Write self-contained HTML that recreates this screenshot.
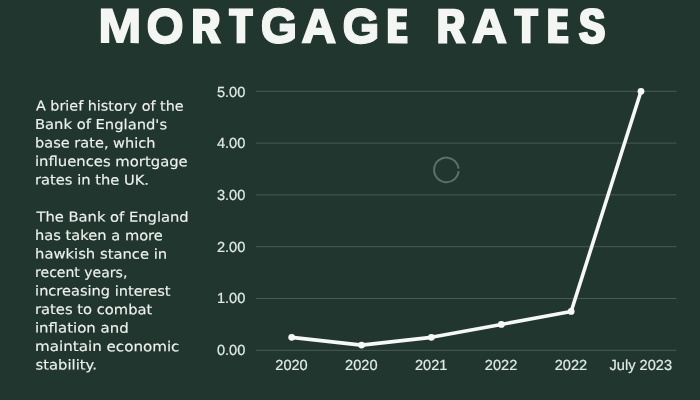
<!DOCTYPE html>
<html><head><meta charset="utf-8">
<style>
html,body{margin:0;padding:0;}
body{width:700px;height:400px;overflow:hidden;background:#21362e;position:relative;font-family:"Liberation Sans",sans-serif;}
#title{position:absolute;left:0;top:0;width:700px;height:60px;font-weight:bold;color:#f3f6f3;font-size:49.5px;line-height:49.5px;white-space:pre;text-rendering:geometricPrecision;}
#title .w{position:absolute;left:0;top:0;width:700px;height:60px;display:block;}
#title .g{position:absolute;left:0;top:0;display:block;transform-origin:0 0;}
#txt{position:absolute;left:0;top:0;color:#eef2ee;font-family:"DejaVu Sans","Liberation Sans",sans-serif;font-size:13.7px;line-height:18px;white-space:nowrap;text-rendering:geometricPrecision;-webkit-text-stroke:0.15px #eef2ee;}
#txt p{margin:0;}
#txt span{position:absolute;left:0;top:0;display:block;transform-origin:0 0;}
svg{position:absolute;left:0;top:0;}
svg text{font-family:"Liberation Sans",sans-serif;font-size:14.6px;fill:#e0ebe5;stroke:#e0ebe5;stroke-width:0.2px;text-rendering:geometricPrecision;}
</style></head><body>
<svg width="0" height="0" style="position:absolute"><defs>
<filter id="d10" x="0" y="0" width="100%" height="100%" color-interpolation-filters="sRGB"><feMorphology operator="dilate" radius="1 0"/></filter>
<filter id="d20" x="0" y="0" width="100%" height="100%" color-interpolation-filters="sRGB"><feMorphology operator="dilate" radius="2 0"/></filter>
<filter id="d01" x="0" y="0" width="100%" height="100%" color-interpolation-filters="sRGB"><feMorphology operator="dilate" radius="0 1"/></filter>
<filter id="d11" x="0" y="0" width="100%" height="100%" color-interpolation-filters="sRGB"><feMorphology operator="dilate" radius="1 1"/></filter>
</defs></svg>
<div id="title"><span class="w"><span class="g" style="-webkit-text-stroke:1.6px #f3f6f3;transform:matrix(1.0481,0.003,0,0.9693,98.29,2.57)">M</span></span><span class="w" style="filter:url(#d01)"><span class="g" style="-webkit-text-stroke:1.1px #f3f6f3;transform:matrix(0.9798,0.003,0,0.9518,146.24,3.11)">O</span></span><span class="w" style="filter:url(#d10)"><span class="g" style="-webkit-text-stroke:2.0px #f3f6f3;transform:matrix(0.7708,0.003,0,0.9620,192.33,3.02)">R</span></span><span class="w" style="filter:url(#d10)"><span class="g" style="-webkit-text-stroke:2.2px #f3f6f3;transform:matrix(0.7084,0.003,0,0.9625,230.14,2.91)">T</span></span><span class="w" style="filter:url(#d01)"><span class="g" style="-webkit-text-stroke:1.1px #f3f6f3;transform:matrix(0.9587,0.003,0,0.9509,260.40,3.12)">G</span></span><span class="w"><span class="g" style="-webkit-text-stroke:2.2px #f3f6f3;transform:matrix(0.9542,0.003,0,0.9564,301.81,2.94)">A</span></span><span class="w" style="filter:url(#d01)"><span class="g" style="-webkit-text-stroke:1.1px #f3f6f3;transform:matrix(0.9713,0.003,0,0.9516,342.26,3.13)">G</span></span><span class="w" style="filter:url(#d20)"><span class="g" style="-webkit-text-stroke:2.3px #f3f6f3;transform:matrix(0.5189,0.003,0,0.9556,388.82,3.00)">E</span></span> <span class="w" style="filter:url(#d10)"><span class="g" style="-webkit-text-stroke:2.0px #f3f6f3;transform:matrix(0.7581,0.003,0,0.9620,437.51,3.02)">R</span></span><span class="w"><span class="g" style="-webkit-text-stroke:2.2px #f3f6f3;transform:matrix(0.9624,0.003,0,0.9567,472.31,2.93)">A</span></span><span class="w" style="filter:url(#d10)"><span class="g" style="-webkit-text-stroke:2.2px #f3f6f3;transform:matrix(0.7084,0.003,0,0.9628,515.43,2.90)">T</span></span><span class="w" style="filter:url(#d20)"><span class="g" style="-webkit-text-stroke:2.3px #f3f6f3;transform:matrix(0.5378,0.003,0,0.9560,548.92,2.98)">E</span></span><span class="w" style="filter:url(#d10)"><span class="g" style="-webkit-text-stroke:2.0px #f3f6f3;transform:matrix(0.7623,0.003,0,0.9798,579.58,2.49)">S</span></span></div>
<div id="txt"><p><span style="transform:matrix(1.0482,0.002,0,1,35.95,97.50)">A brief history of the</span>
<span style="transform:matrix(1.0764,0.002,0,1,34.97,116.00)">Bank of England's</span>
<span style="transform:matrix(1.0618,0.002,0,1,35.10,134.50)">base rate, which</span>
<span style="transform:matrix(1.0820,0.002,0,1,34.97,153.00)">influences mortgage</span>
<span style="transform:matrix(1.0722,0.002,0,1,35.03,171.50)">rates in the UK.</span>
</p>
<p><span style="transform:matrix(1.0752,0.002,0,1,36.40,208.50)">The Bank of England</span>
<span style="transform:matrix(1.0706,0.002,0,1,35.03,227.00)">has taken a more</span>
<span style="transform:matrix(1.0793,0.002,0,1,35.02,245.50)">hawkish stance in</span>
<span style="transform:matrix(1.0241,0.002,0,1,35.06,264.00)">recent years,</span>
<span style="transform:matrix(1.0639,0.002,0,1,35.08,282.50)">increasing interest</span>
<span style="transform:matrix(1.0753,0.002,0,1,35.01,301.00)">rates to combat</span>
<span style="transform:matrix(1.0926,0.002,0,1,34.97,319.50)">inflation and</span>
<span style="transform:matrix(1.1037,0.002,0,1,35.05,338.00)">maintain economic</span>
<span style="transform:matrix(1.0795,0.002,0,1,35.51,356.50)">stability.</span>
</p></div>
<svg width="700" height="400" viewBox="0 0 700 400">
<g stroke="#485d54" stroke-width="1">
<line x1="256" x2="676.5" y1="91.30" y2="91.30"/>
<line x1="256" x2="676.5" y1="143.10" y2="143.10"/>
<line x1="256" x2="676.5" y1="194.90" y2="194.90"/>
<line x1="256" x2="676.5" y1="246.70" y2="246.70"/>
<line x1="256" x2="676.5" y1="298.50" y2="298.50"/>
<line x1="256" x2="676.5" y1="350.30" y2="350.30"/>
</g>
<g text-anchor="end" class="lab">
<text x="245.3" y="96.70">5.00</text>
<text x="245.3" y="148.36">4.00</text>
<text x="245.3" y="200.02">3.00</text>
<text x="245.3" y="251.68">2.00</text>
<text x="245.3" y="303.34">1.00</text>
<text x="245.3" y="355.00">0.00</text>
</g>
<g text-anchor="middle" class="lab">
<text x="291.50" y="370.2">2020</text>
<text x="361.35" y="370.2">2020</text>
<text x="431.20" y="370.2">2021</text>
<text x="501.10" y="370.2">2022</text>
<text x="570.95" y="370.2">2022</text>
<text x="640.80" y="370.2">July 2023</text>
</g>
<circle cx="446.4" cy="169.9" r="12.3" fill="none" stroke="#577267" stroke-width="2" stroke-dasharray="74.1 3.2" transform="rotate(6 446.4 169.9)"/>
<polyline fill="none" stroke="#f5f8f6" stroke-width="3.6" stroke-linejoin="round" stroke-linecap="round" points="291.70,337.35 361.55,345.12 431.40,337.35 501.30,324.40 571.15,311.45 641.00,91.30"/>
<g fill="#f5f8f6"><circle cx="291.70" cy="337.35" r="3.4"/><circle cx="361.55" cy="345.12" r="3.4"/><circle cx="431.40" cy="337.35" r="3.4"/><circle cx="501.30" cy="324.40" r="3.4"/><circle cx="571.15" cy="311.45" r="3.4"/><circle cx="641.00" cy="91.30" r="3.4"/></g>
</svg>
</body></html>
